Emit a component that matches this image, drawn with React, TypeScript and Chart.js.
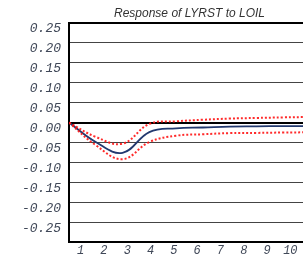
import React, { useEffect, useRef } from "react";
import { Chart, registerables } from "chart.js";

Chart.register(...registerables);

const periods = [1, 2, 3, 4, 5, 6, 7, 8, 9, 10];
const response = [0, -0.049, -0.076, -0.024, -0.0145, -0.0125, -0.01, -0.0095, -0.009, -0.0088];
const upperBand = [0, -0.036, -0.053, -0.0035, 0.003, 0.007, 0.01, 0.0115, 0.013, 0.014];
const lowerBand = [0, -0.057, -0.092, -0.049, -0.033, -0.0295, -0.0265, -0.026, -0.025, -0.0245];
const xTickLabels = [1, 2, 3, 4, 5, 6, 7, 8, 9, 10];
const yMin = -0.3;
const yMax = 0.25;
const yStep = 0.05;
const titleText = "Response of LYRST to LOIL";

const CANVAS_W = 320;
const CANVAS_H = 264;

export default function App() {
  const ref = useRef<HTMLCanvasElement | null>(null);

  useEffect(() => {
    if (!ref.current) return;
    const tickFont = { family: "'Liberation Mono', monospace", size: 13, style: "italic" as const };
    const chart = new Chart(ref.current, {
      type: "line",
      data: {
        datasets: [
          {
            label: "upper",
            data: periods.map((p, i) => ({ x: p, y: upperBand[i] })),
            borderColor: "rgba(255,20,20,0.9)",
            borderWidth: 2,
            borderDash: [2, 2],
            pointRadius: 0,
            tension: 0.4,
            xAxisID: "x",
          },
          {
            label: "lower",
            data: periods.map((p, i) => ({ x: p, y: lowerBand[i] })),
            borderColor: "rgba(255,20,20,0.9)",
            borderWidth: 2,
            borderDash: [2, 2],
            pointRadius: 0,
            tension: 0.4,
            xAxisID: "x",
          },
          {
            label: "response",
            data: periods.map((p, i) => ({ x: p, y: response[i] })),
            borderColor: "#22396f",
            borderWidth: 1.8,
            pointRadius: 0,
            tension: 0.4,
            xAxisID: "x",
          },
        ],
      },
      options: {
        animation: false,
        responsive: false,
        maintainAspectRatio: false,
        layout: { padding: { left: 0, right: CANVAS_W - 310, top: 0, bottom: 0 } },
        plugins: {
          legend: { display: false },
          tooltip: { enabled: false },
          title: {
            display: true,
            fullSize: false,
            text: titleText,
            color: "#333",
            font: { family: "'Liberation Sans', Arial, sans-serif", size: 12, style: "italic", weight: "normal" },
            padding: { top: 6, bottom: 2.6 },
          },
        },
        scales: {
          x: {
            type: "linear",
            display: false,
            min: 1,
            max: 10,
          },
          xl: {
            type: "linear",
            position: "bottom",
            min: 0.5,
            max: 0.5 + (310 - 69) / 23.3,
            afterBuildTicks: (scale: any) => {
              scale.ticks = xTickLabels.map((v) => ({ value: v }));
            },
            afterFit: (scale: any) => {
              scale.height = CANVAS_H - 242;
            },
            grid: { display: false, drawTicks: false },
            border: { display: true, color: "#000", width: 2 },
            ticks: {
              color: "#404858",
              font: { family: "'Liberation Mono', monospace", size: 12, style: "italic" as const },
              padding: 2,
              autoSkip: false,
              maxRotation: 0,
              callback: (v: any) => String(v),
            },
          },
          y: {
            type: "linear",
            min: yMin,
            max: yMax,
            afterBuildTicks: (scale: any) => {
              const ticks = [];
              const n = Math.round((yMax - yMin) / yStep);
              for (let i = 0; i <= n; i++) ticks.push({ value: +(yMin + i * yStep).toFixed(2) });
              scale.ticks = ticks;
            },
            afterFit: (scale: any) => {
              scale.width = 69;
            },
            grid: {
              drawTicks: false,
              color: (ctx: any) => {
                const v = ctx.tick ? ctx.tick.value : null;
                if (v === null) return "#555";
                if (Math.abs(v) < 1e-9 || Math.abs(v - yMax) < 1e-9) return "#000";
                if (Math.abs(v - yMin) < 1e-9) return "rgba(0,0,0,0)";
                return "#444";
              },
              lineWidth: (ctx: any) => {
                const v = ctx.tick ? ctx.tick.value : null;
                if (v !== null && (Math.abs(v) < 1e-9 || Math.abs(v - yMax) < 1e-9)) return 2;
                return 1;
              },
            },
            border: { display: true, color: "#000", width: 2 },
            ticks: {
              color: "#404858",
              font: tickFont,
              padding: 8,
              labelOffset: 6,
              autoSkip: false,
              callback: (v: any) => {
                const n = Number(v);
                if (Math.abs(n - yMin) < 1e-9) return "";
                return n.toFixed(2);
              },
            },
          },
        },
      },
    });
    return () => chart.destroy();
  }, []);

  return (
    <div
      style={{
        position: "fixed",
        left: 0,
        top: 0,
        width: 303,
        height: CANVAS_H,
        overflow: "hidden",
        background: "#fff",
      }}
    >
      <canvas ref={ref} width={CANVAS_W} height={CANVAS_H} style={{ display: "block" }} />
    </div>
  );
}
